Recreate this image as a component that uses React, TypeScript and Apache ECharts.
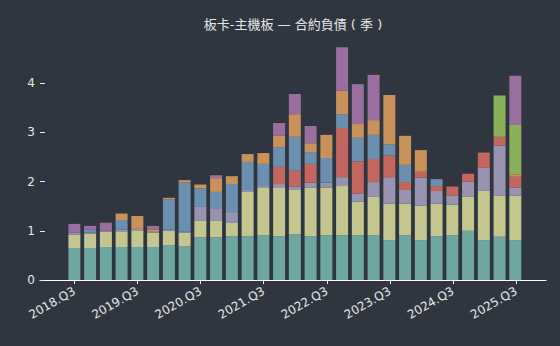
import React, { useEffect, useRef } from "react";
import * as echarts from "echarts";

const quarters = [
  "2018.Q3", "2018.Q4", "2019.Q1", "2019.Q2", "2019.Q3", "2019.Q4", "2020.Q1", "2020.Q2",
  "2020.Q3", "2020.Q4", "2021.Q1", "2021.Q2", "2021.Q3", "2021.Q4", "2022.Q1", "2022.Q2",
  "2022.Q3", "2022.Q4", "2023.Q1", "2023.Q2", "2023.Q3", "2023.Q4", "2024.Q1", "2024.Q2",
  "2024.Q3", "2024.Q4", "2025.Q1", "2025.Q2", "2025.Q3",
];
const tickIndices = [0, 4, 8, 12, 16, 20, 24, 28];
const yTicks = [0, 1, 2, 3, 4];

const tealValues = [0.65, 0.65, 0.67, 0.67, 0.67, 0.67, 0.71, 0.68, 0.87, 0.87, 0.89, 0.89, 0.91, 0.89, 0.93, 0.89, 0.91, 0.91, 0.91, 0.91, 0.81, 0.91, 0.81, 0.89, 0.91, 1.0, 0.81, 0.88, 0.81];
const khakiValues = [0.27, 0.29, 0.31, 0.32, 0.34, 0.29, 0.29, 0.28, 0.33, 0.33, 0.27, 0.9, 0.96, 0.98, 0.9, 0.99, 0.97, 1.0, 0.68, 0.78, 0.74, 0.64, 0.7, 0.66, 0.62, 0.69, 1.0, 0.83, 0.9];
const lavenderValues = [0.04, 0.02, 0.02, 0.03, 0.03, 0.02, 0.02, 0.02, 0.3, 0.26, 0.22, 0.04, 0.04, 0.08, 0.07, 0.1, 0.1, 0.18, 0.17, 0.3, 0.54, 0.28, 0.57, 0.26, 0.18, 0.31, 0.47, 1.02, 0.17];
const redValues = [0, 0, 0, 0, 0, 0, 0, 0, 0, 0, 0, 0, 0, 0.35, 0.32, 0.38, 0, 1.0, 0.65, 0.47, 0.44, 0.16, 0.12, 0.1, 0.19, 0.16, 0.31, 0.18, 0.22];
const blueValues = [0, 0.06, 0, 0.2, 0, 0, 0.62, 1.0, 0.36, 0.33, 0.57, 0.57, 0.45, 0.4, 0.69, 0.24, 0.5, 0.28, 0.48, 0.49, 0.23, 0.35, 0, 0.14, 0, 0, 0, 0, 0];
const orangeValues = [0, 0, 0, 0.13, 0.26, 0.05, 0.03, 0.05, 0.08, 0.28, 0.16, 0.16, 0.22, 0.23, 0.46, 0.18, 0.47, 0.48, 0.28, 0.3, 1.0, 0.59, 0.44, 0, 0, 0, 0, 0, 0.05];
const greenValues = [0, 0, 0, 0, 0, 0, 0, 0, 0, 0, 0, 0, 0, 0, 0, 0, 0, 0, 0, 0, 0, 0, 0, 0, 0, 0, 0, 0.84, 1.0];
const purpleValues = [0.18, 0.08, 0.165, 0, 0, 0.07, 0, 0, 0, 0.06, 0, 0, 0, 0.26, 0.41, 0.35, 0, 0.88, 0.81, 0.92, 0, 0, 0, 0, 0, 0, 0, 0, 1.0];

const seriesList = [
  { name: "teal", values: tealValues, color: "#6fa6a0" },
  { name: "khaki", values: khakiValues, color: "#c4c690" },
  { name: "lavender", values: lavenderValues, color: "#9893b1" },
  { name: "red", values: redValues, color: "#c2665f" },
  { name: "blue", values: blueValues, color: "#6a8faf" },
  { name: "orange", values: orangeValues, color: "#c8925a" },
  { name: "green", values: greenValues, color: "#8bb05c" },
  { name: "purple", values: purpleValues, color: "#9a6f9f" },
];

const TEXT = "#e6e6e6";
const BG = "#2f3640";

export default function App() {
  const ref = useRef<HTMLDivElement>(null);
  useEffect(() => {
    if (!ref.current) return;
    const chart = echarts.init(ref.current, null, { renderer: "svg" });
    const top = 34;
    const bottom = 66;
    chart.setOption({
      animation: false,
      backgroundColor: BG,
      title: {
        text: "板卡-主機板 — 合約負債 ( 季 )",
        left: 288,
        top: 13,
        textAlign: "center",
        textStyle: { color: TEXT, fontSize: 13, fontWeight: "normal", fontFamily: "DejaVu Sans, Noto Sans CJK TC" },
      },
      grid: [
        { left: 40, right: 14, top, bottom },
        { left: 66.5, right: 36.8, top, bottom },
      ],
      xAxis: [
        {
          type: "value",
          gridIndex: 0,
          min: -2.18,
          max: 29.9,
          splitLine: { show: false },
          axisLine: { show: true, onZero: false, lineStyle: { color: "#ffffff", width: 1.2 } },
          axisTick: { show: true, customValues: tickIndices, length: 4, lineStyle: { color: "#ffffff" } },
          axisLabel: {
            customValues: tickIndices,
            color: TEXT,
            fontSize: 12,
            fontFamily: "DejaVu Sans",
            rotate: 30,
            margin: 10,
            formatter: (v: number) => quarters[Math.round(v)] ?? "",
          },
        },
        {
          type: "category",
          gridIndex: 1,
          data: quarters,
          show: false,
        },
      ],
      yAxis: [
        {
          type: "value",
          gridIndex: 0,
          min: 0,
          max: 5,
          interval: 1,
          splitLine: { show: false },
          axisLine: { show: false, onZero: false },
          axisTick: { show: true, inside: true, length: 5, customValues: yTicks, lineStyle: { color: TEXT } },
          axisLabel: { customValues: yTicks, color: TEXT, fontSize: 12, fontFamily: "DejaVu Sans", margin: 5 },
        },
        { type: "value", gridIndex: 1, min: 0, max: 5, show: false },
      ],
      series: seriesList.map((s) => ({
        name: s.name,
        type: "bar",
        stack: "total",
        xAxisIndex: 1,
        yAxisIndex: 1,
        barWidth: 12,
        data: s.values,
        itemStyle: { color: s.color },
      })),
    });
    return () => chart.dispose();
  }, []);
  return (
    <div
      ref={ref}
      style={{ position: "fixed", left: 0, top: 0, width: 560, height: 346, background: BG }}
    />
  );
}
